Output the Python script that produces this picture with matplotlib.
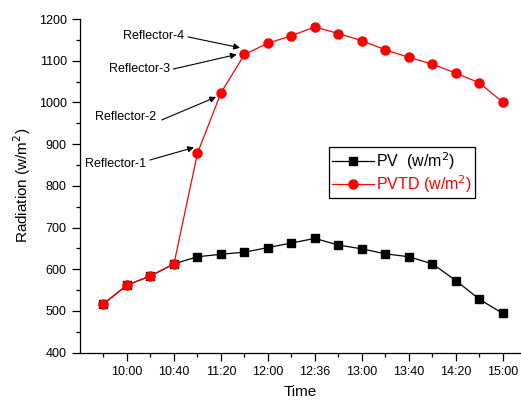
import matplotlib

matplotlib.use("Agg")
import matplotlib.pyplot as plt

plt.rcParams["font.family"] = ["Liberation Sans", "DejaVu Sans"]

# 18 readings, evenly spaced; the x tick labels are as printed on the chart
TIME_IDX = list(range(18))
TICK_IDX = [1, 3, 5, 7, 9, 11, 13, 15, 17]
TICK_LABELS = ["10:00", "10:40", "11:20", "12:00", "12:36",
               "13:00", "13:40", "14:20", "15:00"]

PV = [517, 562, 584, 613, 630, 636, 641, 652, 663, 674,
      658, 649, 637, 630, 613, 573, 528, 494]
PVTD = [517, 562, 584, 613, 878, 1023, 1115, 1142, 1160, 1181,
        1165, 1148, 1126, 1108, 1092, 1070, 1047, 1000]

# (label, text position, arrow tail, arrow head)
NOTES = [
    ("Reflector-4", (0.84, 1159), (3.6, 1157), (5.81, 1131)),
    ("Reflector-3", (0.25, 1080), (2.97, 1080), (5.67, 1115)),
    ("Reflector-2", (-0.35, 965), (2.48, 958), (4.79, 1013)),
    ("Reflector-1", (-0.78, 852), (1.98, 862), (3.85, 892)),
]

fig = plt.figure(figsize=(5.21, 4.01), dpi=100)
ax = fig.add_axes([80 / 521, 1 - 352.7 / 401, 441 / 521, 333.7 / 401])

ax.plot(TIME_IDX, PV, "-s", color="black", lw=0.9, markersize=5.5,
        label="PV  (w/m$^2$)")
ax.plot(TIME_IDX, PVTD, "-o", color="red", lw=0.9, markersize=6.5,
        label="PVTD (w/m$^2$)")

for label, txt, tail, head in NOTES:
    ax.text(txt[0], txt[1], label, fontsize=9, ha="left", va="center")
    ax.annotate("", xy=head, xytext=tail,
                arrowprops=dict(arrowstyle="-|>", color="black", lw=0.8,
                                mutation_scale=9, shrinkA=0, shrinkB=0))

ax.set_xlim(-1, 17.77)
ax.set_ylim(400, 1200)
ax.set_xticks(TICK_IDX)
ax.set_xticklabels(TICK_LABELS)
ax.set_xticks([i - 1 for i in TICK_IDX], minor=True)
ax.set_yticks(range(400, 1201, 100))
ax.set_yticks(range(450, 1200, 100), minor=True)
ax.tick_params(which="major", direction="out", length=6, width=0.9, labelsize=9)
ax.tick_params(which="minor", direction="out", length=3, width=0.9)

for side in ("top", "right"):
    ax.spines[side].set_visible(False)
for side in ("left", "bottom"):
    ax.spines[side].set_linewidth(0.9)

ax.set_xlabel("Time", fontsize=11, labelpad=5)
ax.set_ylabel("Radiation (w/m$^2$)", fontsize=11, labelpad=4)

leg = ax.legend(loc="upper left", bbox_to_anchor=(0.565, 0.616),
                borderaxespad=0, fontsize=11.5, fancybox=False, framealpha=1,
                edgecolor="black", handlelength=2.6, handletextpad=0.15,
                borderpad=0.2, labelspacing=0.05)
leg.get_frame().set_linewidth(0.9)
leg.get_texts()[1].set_color("red")

fig.savefig("out.png", dpi=100)
